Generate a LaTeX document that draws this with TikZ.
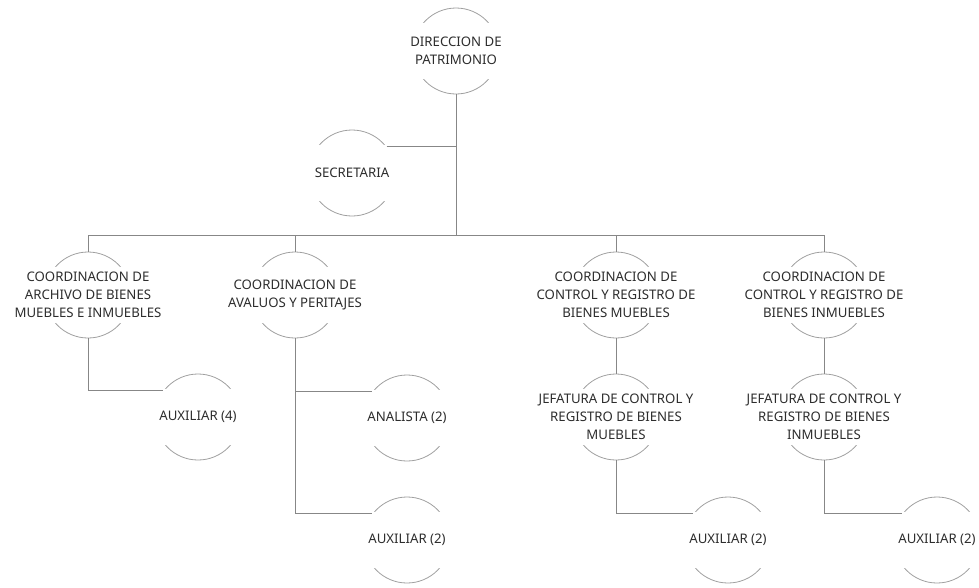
\documentclass[tikz,border=0pt]{standalone}
\usepackage{fontspec}
\setmainfont{Noto Sans}
\usepackage{tikz}

\definecolor{linegray}{RGB}{135,135,135}
\definecolor{ringgray}{RGB}{160,160,160}
\definecolor{textgray}{RGB}{45,45,45}

\tikzset{
  unit/.style={circle, draw=ringgray, line width=0.8pt, minimum size=86pt, inner sep=0pt},
  tag/.style={fill=white, text=textgray, align=center, inner sep=1pt,
    minimum width=92pt, minimum height=56pt,
    font=\fontsize{13.2}{18}\selectfont},
  link/.style={draw=linegray, line width=0.9pt}
}

\begin{document}
\begin{tikzpicture}[x=1pt,y=-1pt]
\useasboundingbox (0,0) rectangle (979,587);

\node[unit] (dir) at (456,51) {};
\node[unit] (sec) at (352,173) {};
\node[unit] (coordArch) at (88,295) {};
\node[unit] (coordAval) at (295,295) {};
\node[unit] (coordMue) at (616,295) {};
\node[unit] (coordInm) at (824,295) {};
\node[unit] (aux4) at (198,417) {};
\node[unit] (anal) at (407,418) {};
\node[unit] (auxAval) at (407,540) {};
\node[unit] (jefMue) at (616,417) {};
\node[unit] (jefInm) at (824,417) {};
\node[unit] (auxMue) at (728,540) {};
\node[unit] (auxInm) at (937,540) {};

\node[tag] (dirT) at (dir) {DIRECCION DE\\PATRIMONIO};
\node[tag] (secT) at (sec) {SECRETARIA};
\node[tag] (coordArchT) at (coordArch) {COORDINACION DE\\ARCHIVO DE BIENES\\MUEBLES E INMUEBLES};
\node[tag] (coordAvalT) at (coordAval) {COORDINACION DE\\AVALUOS Y PERITAJES};
\node[tag] (coordMueT) at (coordMue) {COORDINACION DE\\CONTROL Y REGISTRO DE\\BIENES MUEBLES};
\node[tag] (coordInmT) at (coordInm) {COORDINACION DE\\CONTROL Y REGISTRO DE\\BIENES INMUEBLES};
\node[tag] (aux4T) at (aux4) {AUXILIAR (4)};
\node[tag] (analT) at (anal) {ANALISTA (2)};
\node[tag] (auxAvalT) at (auxAval) {AUXILIAR (2)};
\node[tag] (jefMueT) at (jefMue) {JEFATURA DE CONTROL Y\\REGISTRO DE BIENES\\MUEBLES};
\node[tag] (jefInmT) at (jefInm) {JEFATURA DE CONTROL Y\\REGISTRO DE BIENES\\INMUEBLES};
\node[tag] (auxMueT) at (auxMue) {AUXILIAR (2)};
\node[tag] (auxInmT) at (auxInm) {AUXILIAR (2)};

\coordinate (bus) at (456,235);

\draw[link] (dir.south) -- (bus);
\draw[link] (sec.37) -- (sec.37 -| bus);
\draw[link] (coordArch.north) -- (coordArch.north |- bus) -- (coordInm.north |- bus) -- (coordInm.north);
\draw[link] (coordAval.north) -- (coordAval.north |- bus);
\draw[link] (coordMue.north) -- (coordMue.north |- bus);

\draw[link] (coordArch.south) |- (aux4.143);
\draw[link] (coordAval.south) |- (anal.143);
\draw[link] (coordAval.south) |- (auxAval.143);
\draw[link] (coordMue.south) -- (jefMue.north);
\draw[link] (coordInm.south) -- (jefInm.north);
\draw[link] (jefMue.south) |- (auxMue.143);
\draw[link] (jefInm.south) |- (auxInm.143);

\end{tikzpicture}
\end{document}
